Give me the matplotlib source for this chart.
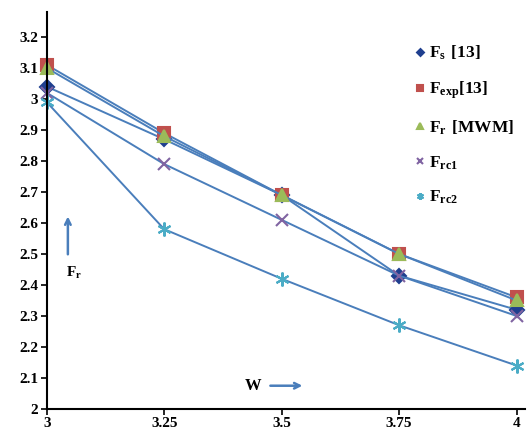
import numpy as np
import matplotlib.pyplot as plt

plt.rcParams['font.family'] = ['Liberation Serif', 'DejaVu Serif']
plt.rcParams['font.weight'] = 'bold'
plt.rcParams['mathtext.fontset'] = 'custom'
plt.rcParams['mathtext.rm'] = 'Liberation Serif'
plt.rcParams['mathtext.bf'] = 'Liberation Serif:bold'

w = [3, 3.25, 3.5, 3.75, 4]
f_s = [3.04, 2.87, 2.69, 2.43, 2.32]
f_exp = [3.11, 2.89, 2.69, 2.50, 2.36]
f_r = [3.10, 2.88, 2.69, 2.50, 2.35]
f_rc1 = [3.02, 2.79, 2.61, 2.43, 2.30]
f_rc2 = [2.99, 2.58, 2.42, 2.27, 2.14]

xticks = [3, 3.25, 3.5, 3.75, 4]
xticklabels = ['3', '3.25', '3.5', '3.75', '4']
yticks = [2, 2.1, 2.2, 2.3, 2.4, 2.5, 2.6, 2.7, 2.8, 2.9, 3, 3.1, 3.2]
yticklabels = ['2', '2.1', '2.2', '2.3', '2.4', '2.5', '2.6', '2.7', '2.8',
               '2.9', '3', '3.1', '3.2']

line_c = '#4a7ebb'

fig = plt.figure(figsize=(5.31, 4.36), dpi=100)
ax = fig.add_axes([0.088, 0.062, 0.9, 0.91])

series = [
    (f_s, 'D', '#1f3f8f', 7, r'$\mathbf{F_{s}\ [13]}$'),
    (f_exp, 's', '#c0504d', 9, r'$\mathbf{F_{exp}[13]}$'),
    (f_r, '^', '#9bbb59', 8, r'$\mathbf{F_{r}\ [MWM]}$'),
    (f_rc1, 'x', '#8064a2', 9, r'$\mathbf{F_{rc1}}$'),
    (f_rc2, '*', '#4bacc6', 10, r'$\mathbf{F_{rc2}}$'),
]
for ys, mk, mc, ms, lab in series:
    if mk == '*':
        ax.plot(w, ys, color=line_c, lw=1.4, marker=(6, 2, 0), ms=ms,
                mec=mc, mew=1.5, label=lab, clip_on=False)
    else:
        ax.plot(w, ys, color=line_c, lw=1.4, marker=mk, ms=ms,
                mfc=mc, mec=mc, mew=1.5, label=lab, clip_on=False)

ax.set_xlim(3, 4.017)
ax.set_ylim(2, 3.28)
ax.set_xticks(xticks)
ax.set_xticklabels(xticklabels, fontsize=11, fontweight='bold')
ax.set_yticks(yticks)
ax.set_yticklabels(yticklabels, fontsize=11, fontweight='bold')
ax.spines['top'].set_visible(False)
ax.spines['right'].set_visible(False)
ax.spines['left'].set_linewidth(1.5)
ax.spines['bottom'].set_linewidth(1.5)
ax.tick_params(length=4, width=1.2, pad=2)

leg = ax.legend(loc='upper right', bbox_to_anchor=(1.01, 0.96), frameon=False,
                fontsize=12.5, markerscale=0.5, handlelength=0.6, handletextpad=0.2,
                labelspacing=1.0)
for h in leg.legend_handles:
    h.set_linestyle('')

ax.annotate('', xy=(3.045, 2.63), xytext=(3.045, 2.49),
            arrowprops=dict(arrowstyle='->', color=line_c, lw=1.8))
ax.text(3.04, 2.44, r'$\mathbf{F_{r}}$', fontsize=11, ha='left', va='center')
ax.text(3.44, 2.075, 'W', fontsize=12, fontweight='bold', ha='center', va='center')
ax.annotate('', xy=(3.55, 2.075), xytext=(3.47, 2.075),
            arrowprops=dict(arrowstyle='->', color=line_c, lw=1.8))

fig.savefig('out.png', dpi=100)
